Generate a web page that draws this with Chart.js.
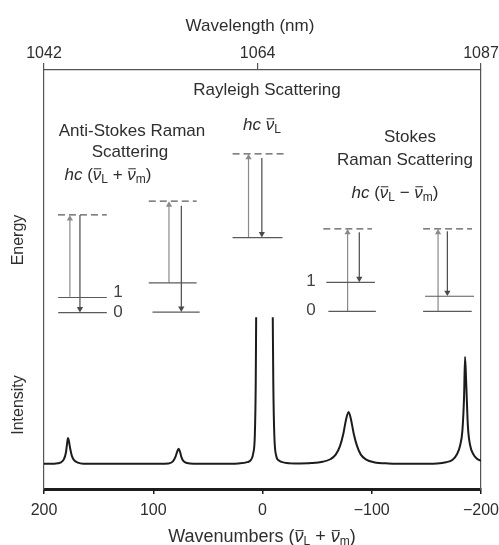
<!DOCTYPE html>
<html>
<head>
<meta charset="utf-8">
<script src="https://cdn.jsdelivr.net/npm/chart.js@4.4.1/dist/chart.umd.min.js"></script>
<style>
  html, body { margin: 0; padding: 0; background: #fff; }
  #wrap { width: 499px; height: 545px; }
</style>
</head>
<body>
<div id="wrap"><canvas id="c"></canvas></div>
<script>
// axis ticks
var wnTicks = [200, 100, 0, -100, -200];
var nmTicks = [1042, 1064, 1087];

// spectrum (wavenumber, intensity); null = off-scale Rayleigh top
var specX = [200, 190, 185, 182, 180, 178.7, 178, 177.2, 176, 174.5, 172.5, 169, 164, 150, 120, 95, 86, 82, 79.5, 78, 76.8, 75.5, 74.2, 72.5, 69, 62, 40, 22, 14, 10.5, 8.5, 7, 6.2, 5.8, -1.8, -9.4, -9.9, -10.8, -12.5, -15, -20, -30, -45, -55, -62, -67, -71, -74, -76.5, -78.8, -81, -83.5, -86.5, -90, -95, -102, -115, -140, -160, -168, -174, -178, -181, -183, -184.5, -185.4, -186.5, -188, -190, -193, -196, -200];
var specY = [6.0, 6.05, 6.3, 7.0, 8.6, 11.2, 12.2, 11.4, 9.6, 7.9, 6.9, 6.3, 6.05, 6.0, 6.0, 6.0, 6.1, 6.6, 7.8, 9.0, 9.6, 8.9, 7.6, 6.7, 6.2, 6.05, 6.0, 6.1, 6.4, 7.0, 8.5, 13, 25, 41, null, 41, 25, 13, 8.0, 6.8, 6.3, 6.1, 6.2, 6.5, 7.1, 8.2, 10.3, 13.2, 16.6, 18.4, 16.6, 13.2, 10.3, 8.2, 7.0, 6.4, 6.1, 6.0, 6.1, 6.4, 7.0, 8.3, 10.5, 14, 22, 31.5, 25, 15, 10.5, 8.3, 7.3, 6.7];

// energy level diagrams: [x start, x end, energy]
var groundLevels = [[187, 142.5, 42.1], [100.7, 57.5, 42.2], [-60.3, -103.8, 42.4], [-147, -191.5, 42.4]];
var vibLevels = [[187, 142.5, 45.7], [104.1, 60.3, 49.2], [-58.4, -102.9, 49.3], [-148.8, -193.6, 46.0]];
var rayleighLevels = [[27.4, -18.3, 60.0]];
var virtualLevels = [[187.2, 142.5, 65.4], [104.1, 60.3, 68.7], [27.4, -20.1, 80.0], [-55.7, -100.2, 62.1], [-147, -191.8, 62.1]];
// transitions: [x, energy from, energy to]
var upArrows = [[176.3, 45.9, 64.5], [85.6, 49.2, 67.8], [12.8, 60.0, 79.1], [-77.9, 42.4, 61.2], [-160.7, 42.4, 61.2]];
var downArrows = [[167.1, 65.4, 43.0], [74.3, 67.6, 43.1], [0.6, 79.0, 60.9], [-88.6, 61.3, 50.2], [-169.2, 61.5, 46.9]];

var FONT = '"Liberation Sans", Arial, sans-serif';
var TXT = '#2e2e2e';

var specData = specX.map(function (x, i) { return { x: x, y: specY[i] }; });

var datasets = [{
  data: specData,
  borderColor: '#1c1c1c',
  borderWidth: 2,
  pointRadius: 0,
  cubicInterpolationMode: 'monotone',
  spanGaps: false,
  yAxisID: 'y'
}];

function addLevels(list, color, dash) {
  list.forEach(function (l) {
    datasets.push({
      data: [{ x: l[0], y: l[2] }, { x: l[1], y: l[2] }],
      borderColor: color, borderWidth: 1.2, borderDash: dash || [],
      pointRadius: 0, yAxisID: 'yE'
    });
  });
}
function addArrows(list, color, up) {
  list.forEach(function (a) {
    datasets.push({
      data: [{ x: a[0], y: a[1] }, { x: a[0], y: a[2] }],
      borderColor: color, borderWidth: 1.2,
      pointRadius: [0, 3.6], pointStyle: 'triangle', pointRotation: up ? 0 : 180,
      pointBackgroundColor: color, pointBorderWidth: 0,
      yAxisID: 'yE'
    });
  });
}
addLevels(groundLevels, '#5a5a5a');
addLevels(vibLevels, '#5a5a5a');
addLevels(rayleighLevels, '#5a5a5a');
addLevels(virtualLevels, '#5a5a5a', [7, 4]);
addArrows(upArrows, '#8a8a8a', true);
addArrows(downArrows, '#4a4a4a', false);

function rich(ctx, parts, cx, cy, size) {
  var total = 0;
  parts.forEach(function (p) {
    ctx.font = p.font;
    p.w = ctx.measureText(p.t).width;
    total += p.w;
  });
  var x = cx - total / 2;
  var base = cy + size * 0.36;
  parts.forEach(function (p) {
    ctx.font = p.font;
    ctx.fillText(p.t, x, base + (p.dy || 0));
    if (p.bar) ctx.fillRect(x + 1, base - size * 0.52 - 3, p.w - 1, 1);
    x += p.w;
  });
}

function nuParts(size, sub2, op) {
  var f = size + 'px ' + FONT, fi = 'italic ' + size + 'px ' + FONT, fs = Math.round(size * 0.68) + 'px ' + FONT;
  var parts = [{ t: 'hc ', font: fi }];
  if (op) parts.push({ t: '(', font: f });
  parts.push({ t: '\u03bd', font: fi, bar: true });
  parts.push({ t: 'L', font: fs, dy: 3 });
  if (op) {
    parts.push({ t: ' ' + op + ' ', font: f });
    parts.push({ t: '\u03bd', font: fi, bar: true });
    parts.push({ t: sub2, font: fs, dy: 3 });
    parts.push({ t: ')', font: f });
  }
  return parts;
}

var labels = {
  id: 'labels',
  afterDraw: function (chart) {
    var ctx = chart.ctx;
    ctx.save();
    ctx.fillStyle = TXT;
    ctx.textAlign = 'center';
    ctx.textBaseline = 'middle';
    ctx.font = '17px ' + FONT;
    ctx.fillText('Wavelength (nm)', 250, 26);
    ctx.fillText('Rayleigh Scattering', 267, 90);
    ctx.fillText('Anti-Stokes Raman', 132, 131);
    ctx.fillText('Scattering', 130, 152);
    ctx.fillText('Stokes', 410, 137);
    ctx.fillText('Raman Scattering', 405, 160);
    ctx.fillStyle = '#444';
    ctx.fillText('1', 118, 292);
    ctx.fillText('0', 118, 312);
    ctx.fillText('1', 311, 281);
    ctx.fillText('0', 311, 310);
    ctx.fillStyle = TXT;
    ctx.textAlign = 'left';
    ctx.textBaseline = 'alphabetic';
    rich(ctx, nuParts(17), 262, 124, 17);
    rich(ctx, nuParts(17, 'm', '+'), 108, 174, 17);
    rich(ctx, nuParts(17, 'm', '\u2212'), 395, 192, 17);
    var p = nuParts(18, 'm', '+');
    p[0] = { t: 'Wavenumbers ', font: '18px ' + FONT };
    p.forEach(function (q) { q.font = q.font.replace('italic ', ''); });
    p[2].font = 'italic 18px ' + FONT;
    p[5].font = 'italic 18px ' + FONT;
    rich(ctx, p, 262, 536, 18);
    ctx.textAlign = 'center';
    ctx.textBaseline = 'middle';
    ctx.font = '16px ' + FONT;
    [['Energy', 240], ['Intensity', 405]].forEach(function (t) {
      ctx.save();
      ctx.translate(19, t[1]);
      ctx.rotate(-Math.PI / 2);
      ctx.fillText(t[0], 0, 0);
      ctx.restore();
    });
    ctx.restore();
  }
};

function fixH(h) { return function (s) { s.height = h; s.paddingLeft = 0; s.paddingRight = 0; }; }
function fixW(w) { return function (s) { s.width = w; s.paddingTop = 0; s.paddingBottom = 0; }; }

new Chart(document.getElementById('c'), {
  type: 'line',
  data: { datasets: datasets },
  options: {
    responsive: true,
    maintainAspectRatio: false,
    animation: false,
    events: [],
    layout: { padding: 0 },
    plugins: { legend: { display: false }, tooltip: { enabled: false } },
    scales: {
      x: {
        type: 'linear', position: 'bottom', reverse: true, min: -200, max: 200,
        afterBuildTicks: function (s) { s.ticks = wnTicks.map(function (v) { return { value: v }; }); },
        ticks: {
          autoSkip: false, maxRotation: 0, padding: 7, color: TXT,
          font: { size: 16, family: FONT },
          callback: function (v) { return v < 0 ? '\u2212' + Math.abs(v) : String(v); }
        },
        grid: { drawOnChartArea: false, tickLength: 5, color: '#1c1c1c', lineWidth: 1.5 },
        border: { color: '#1c1c1c', width: 3 },
        afterFit: fixH(56)
      },
      xTop: {
        type: 'linear', position: 'top', min: 1042, max: 1087,
        afterBuildTicks: function (s) { s.ticks = nmTicks.map(function (v) { return { value: v }; }); },
        ticks: {
          autoSkip: false, maxRotation: 0, padding: 0, color: TXT,
          font: { size: 16, family: FONT },
          callback: function (v) { return String(v); }
        },
        grid: { drawOnChartArea: false, tickLength: 7, color: '#555', lineWidth: 1.2 },
        border: { color: '#555', width: 1.2 },
        afterFit: fixH(70)
      },
      y: {
        position: 'left', min: 0, max: 100,
        ticks: { display: false }, grid: { display: false },
        border: { color: '#555', width: 1.2 },
        afterFit: fixW(44)
      },
      yR: {
        position: 'right', min: 0, max: 100,
        ticks: { display: false }, grid: { display: false },
        border: { color: '#555', width: 1.2 },
        afterFit: fixW(18)
      },
      yE: { display: false, min: 0, max: 100 }
    }
  },
  plugins: [labels]
});
</script>
</body>
</html>
